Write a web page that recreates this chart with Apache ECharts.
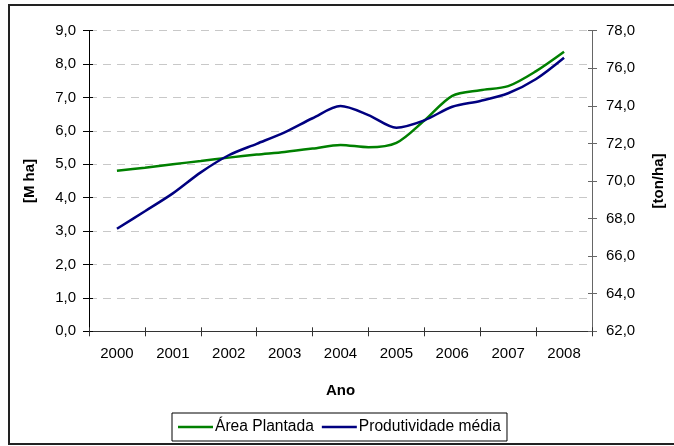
<!DOCTYPE html>
<html>
<head>
<meta charset="utf-8">
<script src="https://cdn.jsdelivr.net/npm/echarts@6/dist/echarts.min.js"></script>
<style>html,body{margin:0;padding:0;background:#fff;}#c{width:674px;height:446px;}</style>
</head>
<body>
<div id="c"></div>
<script>
const years = ['2000','2001','2002','2003','2004','2005','2006','2007','2008'];
const periods = [2000, 2000.5, 2001, 2001.5, 2002, 2002.5, 2003, 2003.5, 2004, 2004.5, 2005, 2005.5, 2006, 2006.5, 2007, 2007.5, 2008];
const areaPlantada = [4.81, 4.90, 5.00, 5.10, 5.20, 5.29, 5.37, 5.47, 5.58, 5.51, 5.64, 6.31, 7.05, 7.22, 7.34, 7.79, 8.37];
const produtividade = [67.46, 68.39, 69.34, 70.46, 71.37, 71.98, 72.59, 73.34, 73.99, 73.51, 72.84, 73.23, 73.95, 74.26, 74.67, 75.43, 76.56];
const leftTicks = {min: 0, max: 9, interval: 1};
const rightTicks = {min: 62, max: 78, interval: 2};

const FONT = 'Liberation Sans, Arial, sans-serif';
const fmt = v => v.toFixed(1).replace('.', ',');
const chart = echarts.init(document.getElementById('c'), null, {renderer: 'canvas'});
chart.setOption({
  animation: false,
  backgroundColor: '#fff',
  textStyle: {fontFamily: FONT, color: '#000'},
  graphic: [{
    type: 'rect', shape: {x: 9, y: 5, width: 700, height: 439},
    style: {fill: 'none', stroke: '#222', lineWidth: 2}, silent: true
  }],
  grid: {left: 89, right: 79.5, top: 30.7, bottom: 114.7},
  legend: {
    left: 172, top: 413,
    padding: [6, 6, 6, 6], itemGap: 8, itemWidth: 35, itemHeight: 2.5,
    icon: 'rect',
    borderColor: '#000', borderWidth: 1,
    textStyle: {fontFamily: FONT, fontSize: 15.6, color: '#000', padding: [0, 0, 0, -3]},
    data: ['Área Plantada', 'Produtividade média']
  },
  xAxis: [{
    type: 'category', data: years, boundaryGap: true, position: 'bottom',
    name: 'Ano', nameLocation: 'middle', nameGap: 52,
    nameTextStyle: {fontFamily: FONT, fontSize: 15, fontWeight: 'bold', color: '#000'},
    axisLine: {lineStyle: {color: '#333', width: 1}},
    axisTick: {show: true, interval: 0, length: 5, lineStyle: {color: '#333'}},
    axisLabel: {fontFamily: FONT, fontSize: 15, color: '#000', margin: 15, interval: 0},
    splitLine: {show: false}
  }, {
    type: 'category', data: years, boundaryGap: true, position: 'bottom',
    axisLine: {show: false},
    axisTick: {show: true, inside: true, interval: 0, length: 4, lineStyle: {color: '#333'}},
    axisLabel: {show: false}, splitLine: {show: false}
  }, {
    type: 'value', min: 1999.5, max: 2008.5, show: false
  }],
  yAxis: [{
    type: 'value', position: 'left', min: leftTicks.min, max: leftTicks.max, interval: leftTicks.interval,
    name: '[M ha]', nameLocation: 'middle', nameGap: 52, nameRotate: 90,
    nameTextStyle: {fontFamily: FONT, fontSize: 15, fontWeight: 'bold', color: '#000'},
    axisLine: {show: true, lineStyle: {color: '#000', width: 1}},
    axisTick: {show: true, length: 6, lineStyle: {color: '#000'}},
    axisLabel: {fontFamily: FONT, fontSize: 15, color: '#000', margin: 13, formatter: fmt},
    splitLine: {show: true, lineStyle: {color: '#c8c8c8', type: [8, 6], width: 1}}
  }, {
    type: 'value', position: 'right', min: rightTicks.min, max: rightTicks.max, interval: rightTicks.interval,
    name: '[ton/ha]', nameLocation: 'middle', nameGap: 59, nameRotate: 90,
    nameTextStyle: {fontFamily: FONT, fontSize: 15, fontWeight: 'bold', color: '#000'},
    axisLine: {show: true, lineStyle: {color: '#666', width: 1}},
    axisTick: {show: true, length: 5, lineStyle: {color: '#666'}},
    axisLabel: {fontFamily: FONT, fontSize: 15, color: '#000', margin: 14, formatter: fmt},
    splitLine: {show: false}
  }, {
    type: 'value', position: 'left', min: leftTicks.min, max: leftTicks.max, interval: leftTicks.interval,
    axisLine: {show: false}, axisLabel: {show: false}, splitLine: {show: false},
    axisTick: {show: true, inside: true, length: 4, lineStyle: {color: '#000'}}
  }, {
    type: 'value', position: 'right', min: rightTicks.min, max: rightTicks.max, interval: rightTicks.interval,
    axisLine: {show: false}, axisLabel: {show: false}, splitLine: {show: false},
    axisTick: {show: true, inside: true, length: 4, lineStyle: {color: '#666'}}
  }],
  series: [{
    name: 'Área Plantada', type: 'line', xAxisIndex: 2, yAxisIndex: 0,
    data: periods.map((p, i) => [p, areaPlantada[i]]),
    smooth: 0.3, symbol: 'none', showSymbol: false,
    lineStyle: {color: '#008000', width: 2.5}, itemStyle: {color: '#008000'}
  }, {
    name: 'Produtividade média', type: 'line', xAxisIndex: 2, yAxisIndex: 1,
    data: periods.map((p, i) => [p, produtividade[i]]),
    smooth: 0.3, symbol: 'none', showSymbol: false,
    lineStyle: {color: '#000080', width: 2.5}, itemStyle: {color: '#000080'}
  }]
});
</script>
</body>
</html>
